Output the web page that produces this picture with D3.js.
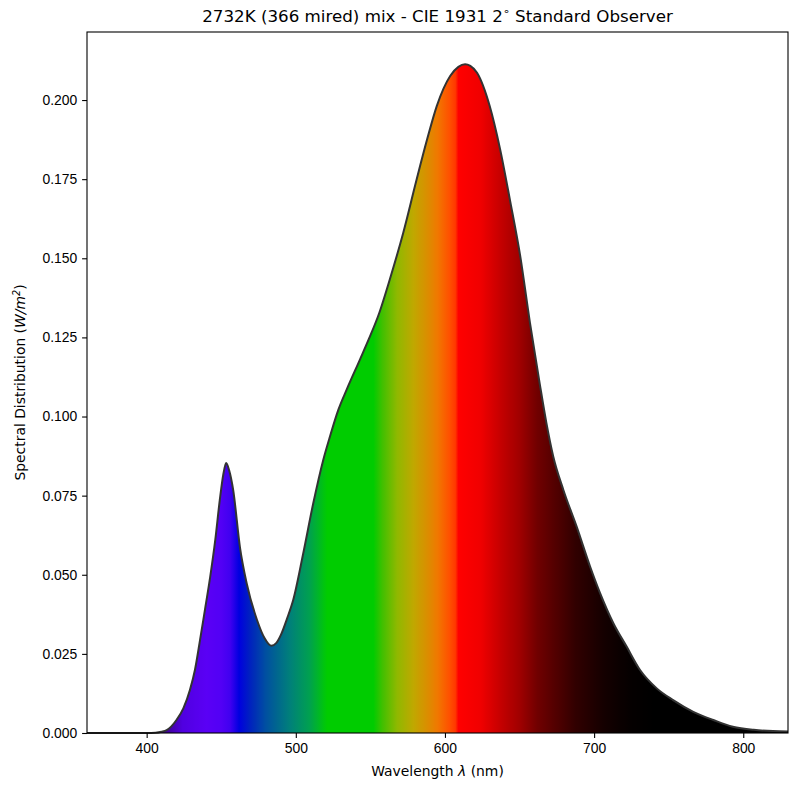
<!DOCTYPE html>
<html>
<head>
  <meta charset="utf-8">
  <title>Spectral Distribution</title>
  <style>
    body { margin: 0; background: #fff; }
    svg { font-family: "DejaVu Sans", sans-serif; }
    .tick text { font-size: 13.9px; fill: #000; }
    .tick line { stroke: #000; stroke-width: 1.1; }
    .domain { display: none; }
  </style>
</head>
<body>
  <div id="chart"></div>

  <script src="https://d3js.org/d3.v7.min.js"></script>
  <script>
    // Spectral distribution (nm, W/m^2)
    const wavelengths = [360, 380, 400, 406, 410, 413.4, 420, 424.6, 429, 432.4, 435.8, 439.1, 442.5, 446, 449,
      451.5, 453.3, 455.3, 458, 462.6, 467, 474, 479, 483.5, 487, 490, 494, 498.3, 505, 511.7, 518.4, 522.9,
      528.5, 534.1, 543, 549, 556, 563, 572, 581, 588, 594.5, 603.5, 609, 613.5, 617, 621.5, 630, 637, 643.5,
      650.5, 657, 663.5, 668, 672.6, 679.4, 688.3, 697.3, 704, 712.9, 721.8, 730.8, 742, 753, 766.5, 780, 793,
      807, 820, 830];
    const values = [0, 0, 0, 0.0001, 0.0004, 0.0009, 0.0041, 0.0078, 0.0136, 0.020, 0.0294, 0.039, 0.049, 0.061, 0.0735,
      0.082, 0.0853, 0.083, 0.0768, 0.0585, 0.0474, 0.0357, 0.030, 0.0276, 0.0285, 0.031, 0.036, 0.0421, 0.0568, 0.0726, 0.0863, 0.0937,
      0.1021, 0.1085, 0.118, 0.1245, 0.1328, 0.1433, 0.158, 0.1749, 0.1875, 0.1981, 0.2076, 0.2105, 0.2113, 0.2108, 0.2086, 0.1981, 0.1844, 0.1686,
      0.1506, 0.1296, 0.1105, 0.098, 0.0874, 0.0768, 0.0652, 0.0526, 0.0442, 0.0347, 0.0273, 0.0199, 0.0141, 0.0104, 0.0067, 0.0041, 0.002,
      0.001, 0.0006, 0.0005];

    // Colour of the spectrum at each wavelength
    const colorWavelengths = [360, 405, 410, 424, 440, 450, 456, 462, 469, 480, 496, 509, 521, 552, 558, 568, 579,
      590, 595, 603, 607, 609, 624, 639, 650, 662, 675, 688, 706, 724, 740, 830];
    const colorValues = ["#200040", "#300060", "#3a0080", "#5000e0", "#5a00f5", "#5200f5", "#4000f0", "#0000e0",
      "#0020c0", "#0050a0", "#00807a", "#00a050", "#00cc00", "#00cc00", "#40c000", "#90b800", "#c0a800",
      "#e08800", "#f07800", "#ff5000", "#ff3800", "#ff0000", "#f00000", "#c00000", "#a00000", "#700000",
      "#500000", "#300000", "#150000", "#050000", "#000000", "#000000"];

    const xTicks = [400, 500, 600, 700, 800];
    const yTicks = [0, 0.025, 0.05, 0.075, 0.1, 0.125, 0.15, 0.175, 0.2];

    const data = wavelengths.map((w, i) => ({ w, v: values[i] }));

    const width = 797, height = 790;
    const margin = { top: 32, right: 9, bottom: 57, left: 87 };

    const svg = d3.select("#chart")
      .append("svg")
      .attr("width", width)
      .attr("height", height);

    const x = d3.scaleLinear()
      .domain([360, 830])
      .range([margin.left, width - margin.right]);

    const y = d3.scaleLinear()
      .domain([0, 0.2215])
      .range([height - margin.bottom, margin.top]);

    const color = d3.scaleLinear()
      .domain(colorWavelengths)
      .range(colorValues);

    // Spectrum gradient
    const grad = svg.append("defs")
      .append("linearGradient")
      .attr("id", "spectrum")
      .attr("gradientUnits", "userSpaceOnUse")
      .attr("x1", x(360)).attr("x2", x(830))
      .attr("y1", 0).attr("y2", 0);

    grad.selectAll("stop")
      .data(d3.range(360, 831, 1))
      .enter()
      .append("stop")
      .attr("offset", d => (d - 360) / (830 - 360))
      .attr("stop-color", d => color(d));

    const area = d3.area()
      .x(d => x(d.w))
      .y0(y(0))
      .y1(d => y(d.v))
      .curve(d3.curveMonotoneX);

    const line = d3.line()
      .x(d => x(d.w))
      .y(d => y(d.v))
      .curve(d3.curveMonotoneX);

    svg.append("path")
      .datum(data)
      .attr("d", area)
      .attr("fill", "url(#spectrum)");

    svg.append("path")
      .datum(data)
      .attr("d", line)
      .attr("fill", "none")
      .attr("stroke", "#333")
      .attr("stroke-width", 2);

    // Axes
    svg.append("g")
      .attr("transform", `translate(0, ${height - margin.bottom})`)
      .call(d3.axisBottom(x).tickValues(xTicks).tickSize(4.9).tickPadding(4.9).tickFormat(d3.format("d")));

    svg.append("g")
      .attr("transform", `translate(${margin.left}, 0)`)
      .call(d3.axisLeft(y).tickValues(yTicks).tickSize(4.9).tickPadding(4.9).tickFormat(d3.format(".3f")));

    // Frame
    svg.append("rect")
      .attr("x", margin.left)
      .attr("y", margin.top)
      .attr("width", width - margin.left - margin.right)
      .attr("height", height - margin.top - margin.bottom)
      .attr("fill", "none")
      .attr("stroke", "#000")
      .attr("stroke-width", 1.1);

    const cx = (margin.left + width - margin.right) / 2;

    // Title
    const title = svg.append("text")
      .attr("x", cx)
      .attr("y", 22)
      .attr("text-anchor", "middle")
      .style("font-size", "16.7px")
      .text("2732K (366 mired) mix - CIE 1931 2");
    title.append("tspan")
      .attr("dy", -7)
      .style("font-size", "11px")
      .text("\u2218");
    title.append("tspan")
      .attr("dy", 7)
      .text(" Standard Observer");

    // X label
    const xl = svg.append("text")
      .attr("x", cx)
      .attr("y", 776)
      .attr("text-anchor", "middle")
      .style("font-size", "13.9px")
      .text("Wavelength ");
    xl.append("tspan").style("font-style", "italic").text("\u03bb");
    xl.append("tspan").text(" (nm)");

    // Y label
    const yl = svg.append("text")
      .attr("transform", `translate(25, ${(margin.top + height - margin.bottom) / 2}) rotate(-90)`)
      .attr("text-anchor", "middle")
      .style("font-size", "13.9px")
      .text("Spectral Distribution (");
    yl.append("tspan").style("font-style", "italic").text("W/m");
    yl.append("tspan").attr("dy", -5).style("font-size", "9.7px").style("font-style", "italic").text("2");
    yl.append("tspan").attr("dy", 5).text(")");
  </script>
</body>
</html>
